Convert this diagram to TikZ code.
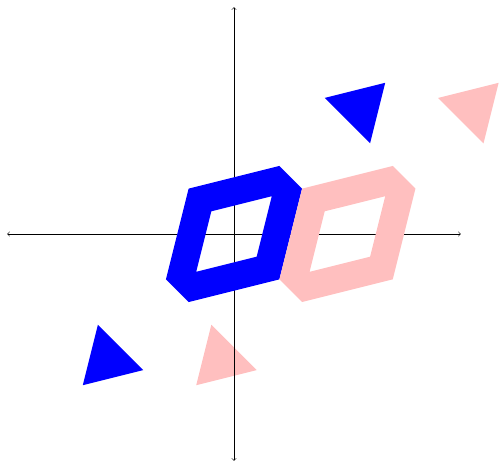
\documentclass[tikz,border=0pt]{standalone}
\begin{document}
\begin{tikzpicture}
\definecolor{pinkish}{RGB}{255,191,191}
\tikzset{
  axis/.style={<->, black, line width=0.4pt},
  ring/.style={even odd rule},
  tri/.style={}
}
\useasboundingbox (-6.19,-6.0) rectangle (7.01,6.19);
% lower triangles
\fill[blue] (-3.6,-2.4) -- (-2.4,-3.6) -- (-4,-4) -- cycle;
\fill[pinkish] (-0.6,-2.4) -- (0.6,-3.6) -- (-1,-4) -- cycle;
% axes
\coordinate (xl) at (-6,0);
\coordinate (xr) at (6,0);
\coordinate (yb) at (0,-6);
\coordinate (yt) at (0,6);
\draw[axis] (xl) -- (xr);
\draw[axis] (yb) -- (yt);
% rings
\foreach \dx/\col in {0/blue,3/pinkish}{
  \begin{scope}[xshift=\dx cm]
  \fill[\col, ring]
    (-1.2,1.2) -- (1.2,1.8) -- (1.8,1.2) -- (1.2,-1.2) -- (-1.2,-1.8) -- (-1.8,-1.2) -- cycle
    (-0.6,0.6) -- (1,1) -- (0.6,-0.6) -- (-1,-1) -- cycle;
  \end{scope}
}
% upper triangles
\fill[blue] (2.4,3.6) -- (4,4) -- (3.6,2.4) -- cycle;
\fill[pinkish] (5.4,3.6) -- (7,4) -- (6.6,2.4) -- cycle;
\end{tikzpicture}
\end{document}
